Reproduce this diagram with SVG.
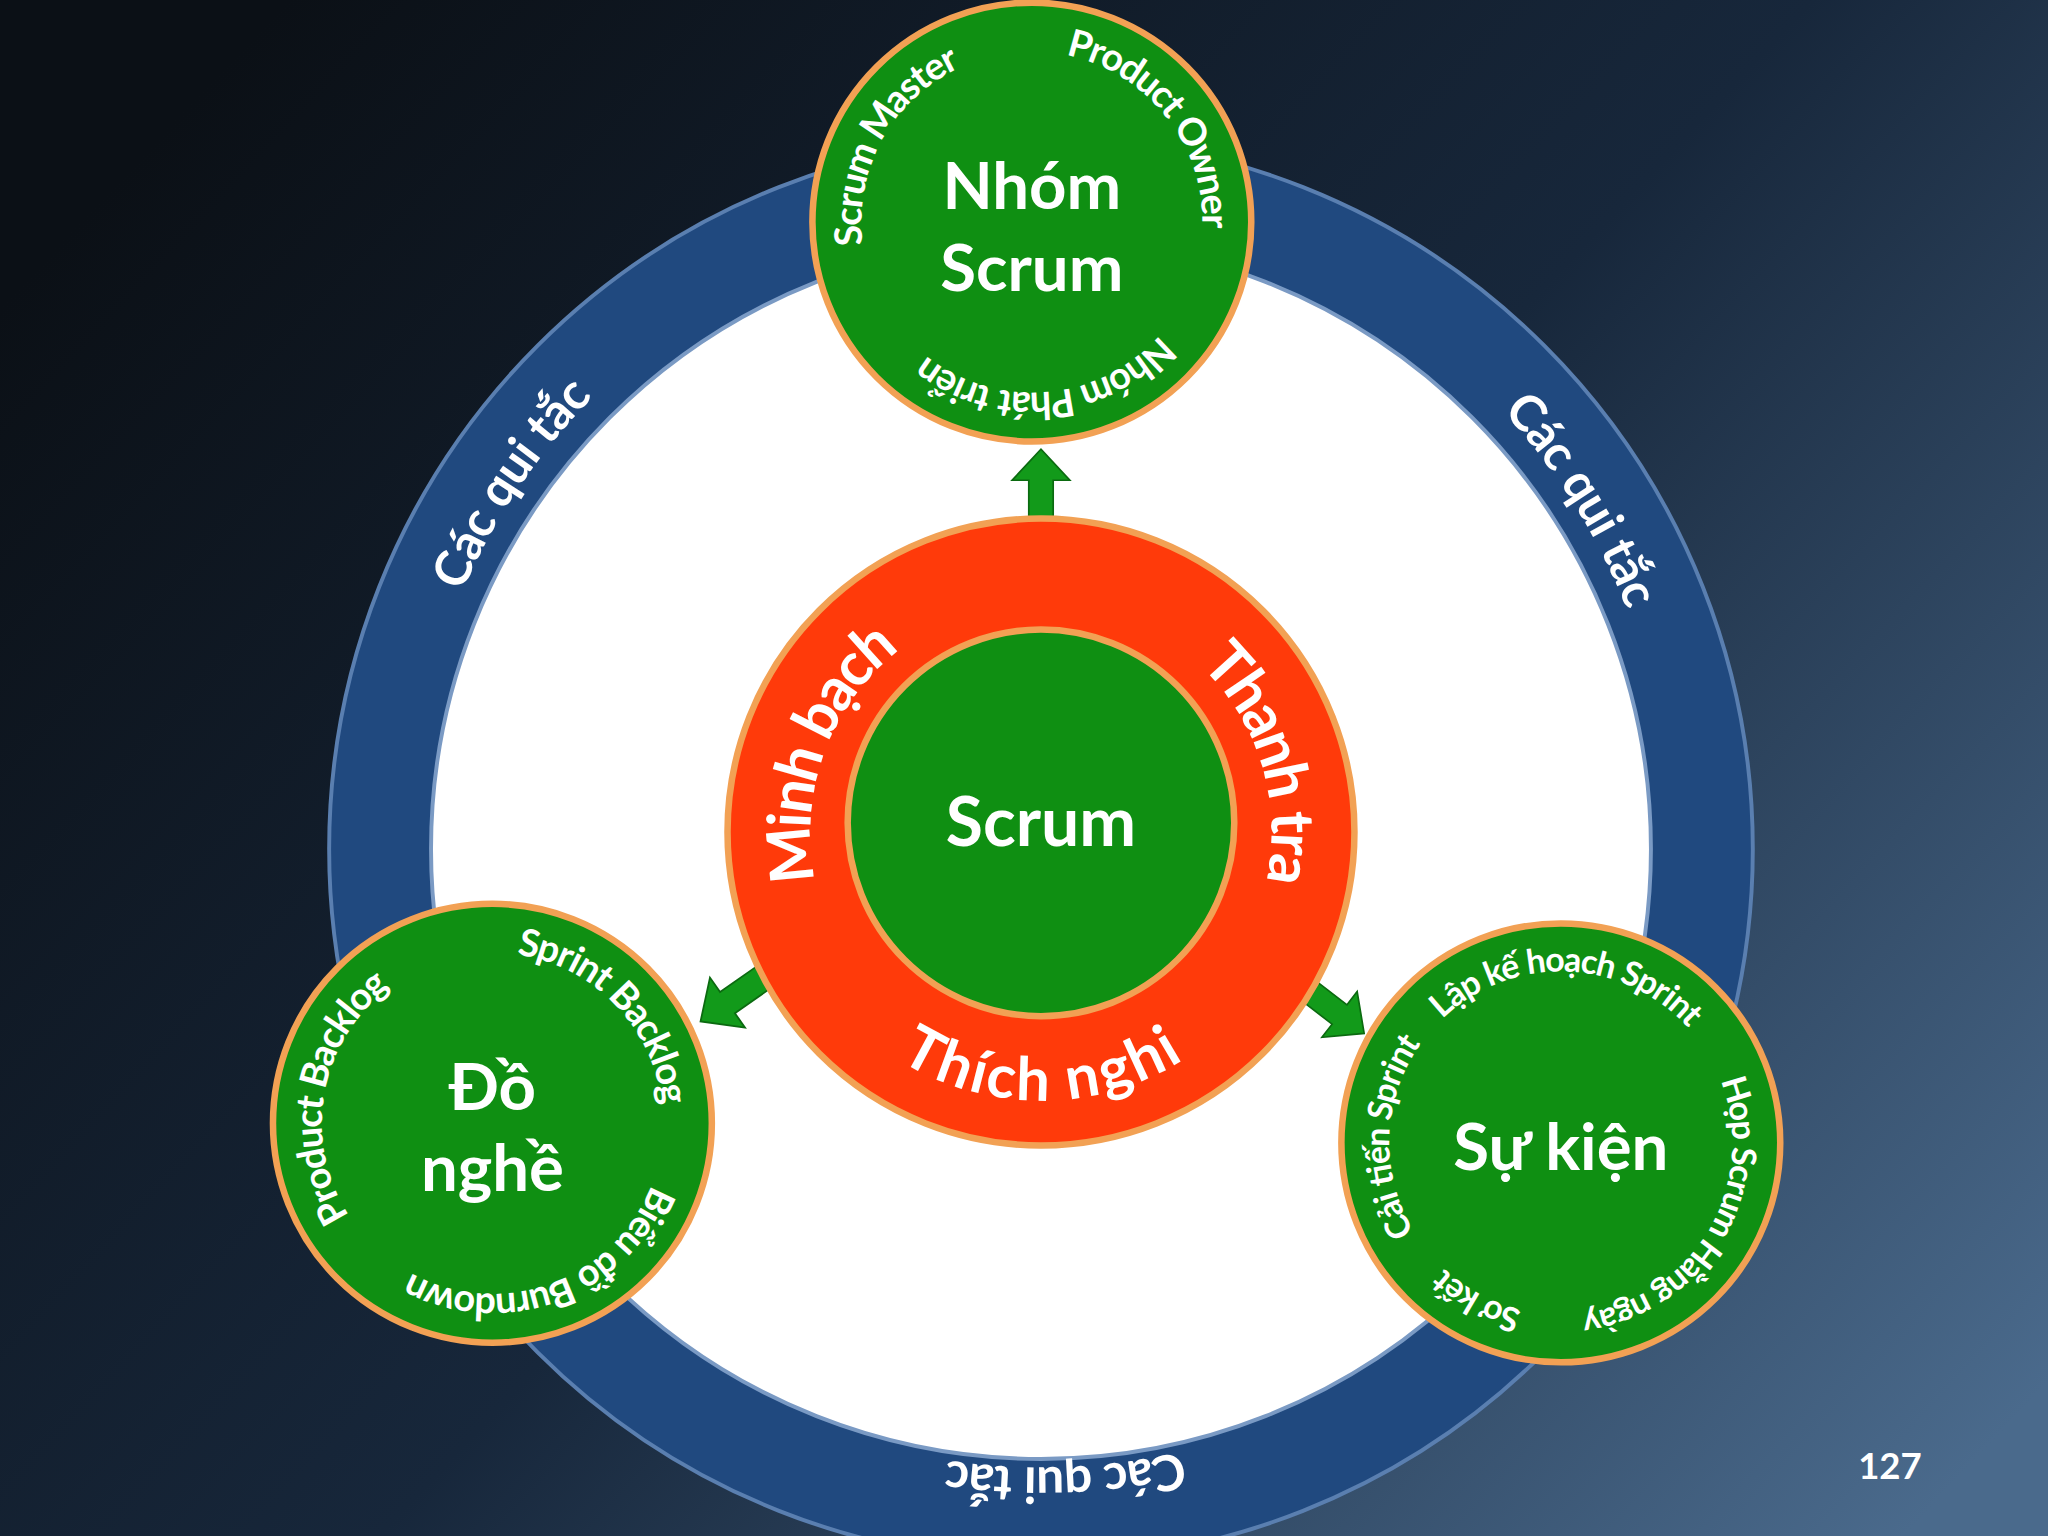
<svg xmlns="http://www.w3.org/2000/svg" width="2048" height="1536" viewBox="0 0 2048 1536">
<defs>
<linearGradient id="bg" x1="0" y1="0.2" x2="1" y2="0.9">
<stop offset="0" stop-color="#0b1016"/><stop offset="0.5" stop-color="#17273b"/><stop offset="1" stop-color="#4a6a8c"/>
</linearGradient>
<path id="ringB" d="M797,1138 A496,496 0 1 1 797,146 A496,496 0 1 1 797,1138"/>
<path id="ringT" d="M797,146 A496,496 0 1 1 797,1138 A496,496 0 1 1 797,146"/>
<path id="redB" d="M797,831 A194,194 0 1 1 797,443 A194,194 0 1 1 797,831"/>
<path id="redCCW" d="M797,449 A188,188 0 1 0 797,825 A188,188 0 1 0 797,449"/>
<path id="topB" d="M790,312 A142,142 0 1 1 790,28 A142,142 0 1 1 790,312"/>
<path id="topT" d="M790,28 A142,142 0 1 1 790,312 A142,142 0 1 1 790,28"/>
<path id="leftB" d="M377,1002 A142,142 0 1 1 377,718 A142,142 0 1 1 377,1002"/>
<path id="leftT" d="M377,718 A142,142 0 1 1 377,1002 A142,142 0 1 1 377,718"/>
<path id="rightB" d="M1195,1017 A142,142 0 1 1 1195,733 A142,142 0 1 1 1195,1017"/>
<path id="rightT" d="M1195,733 A142,142 0 1 1 1195,1017 A142,142 0 1 1 1195,733"/>
<polygon id="arrow" points="0,-11 38,-11 38,-26 66,0 38,26 38,11 0,11"/>
</defs>
<style>
.t{font-family:Lato,"Open Sans","DejaVu Sans",sans-serif;font-weight:bold;fill:#fff}
.g{fill:#0f8f12;stroke:#f2a154;stroke-width:5}
.s{font-size:29px}
</style>
<rect width="2048" height="1536" fill="url(#bg)"/>
<g transform="scale(1.30612)">
<g id="rules">
<circle cx="797" cy="650" r="545" fill="#20497f" stroke="#5a7fb0" stroke-width="3"/>
<circle cx="797" cy="650" r="467" fill="#fff" stroke="#7a9ac4" stroke-width="3"/>
<text class="t" font-size="38" dominant-baseline="central" text-anchor="middle"><textPath href="#ringB" startOffset="34.4%">Các qui tắc</textPath></text>
<text class="t" font-size="38" dominant-baseline="central" text-anchor="middle"><textPath href="#ringB" startOffset="66.1%">Các qui tắc</textPath></text>
<text class="t" font-size="38" dominant-baseline="central" text-anchor="middle"><textPath href="#ringT" startOffset="49.4%">Các qui tắc</textPath></text>
</g>
<g id="connectors" fill="#129a1a" stroke="#0b6a10" stroke-width="1.5">
<use href="#arrow" transform="translate(797,400) rotate(-90) scale(0.85)"/>
<use href="#arrow" transform="translate(585,748) rotate(145) scale(0.9)"/>
<use href="#arrow" transform="translate(1000,757) rotate(37.6) scale(0.85)"/>
</g>
<g id="scrum">
<circle cx="797" cy="637" r="240" fill="#ff3a0a" stroke="#f2a154" stroke-width="5"/>
<circle cx="797" cy="630" r="148" class="g"/>
<text class="t" font-size="52" x="797" y="648" text-anchor="middle">Scrum</text>
<text class="t" font-size="46" dominant-baseline="central" text-anchor="middle"><textPath href="#redB" startOffset="30.6%">Minh bạch</textPath></text>
<text class="t" font-size="46" dominant-baseline="central" text-anchor="middle"><textPath href="#redB" startOffset="70.3%">Thanh tra</textPath></text>
<text class="t" font-size="46" dominant-baseline="central" text-anchor="middle"><textPath href="#redCCW" startOffset="50%">Thích nghi</textPath></text>
</g>
<g id="team">
<circle cx="790" cy="170" r="168" class="g"/>
<text class="t" font-size="50" x="790" y="160" text-anchor="middle">Nhóm</text>
<text class="t" font-size="50" x="790" y="223" text-anchor="middle">Scrum</text>
<text class="t s" dominant-baseline="central" text-anchor="middle"><textPath href="#topB" startOffset="33%">Scrum Master</textPath></text>
<text class="t s" dominant-baseline="central" text-anchor="middle"><textPath href="#topB" startOffset="64.4%">Product Owner</textPath></text>
<text class="t s" dominant-baseline="central" text-anchor="middle"><textPath href="#topT" startOffset="48.6%">Nhóm Phát triển</textPath></text>
</g>
<g id="tools">
<circle cx="377" cy="860" r="168" class="g"/>
<text class="t" font-size="50" x="377" y="850" text-anchor="middle">Đồ</text>
<text class="t" font-size="50" x="377" y="912" text-anchor="middle">nghề</text>
<text class="t s" dominant-baseline="central" text-anchor="middle"><textPath href="#leftB" startOffset="27.8%">Product Backlog</textPath></text>
<text class="t s" dominant-baseline="central" text-anchor="middle"><textPath href="#leftB" startOffset="62.8%">Sprint Backlog</textPath></text>
<text class="t s" dominant-baseline="central" text-anchor="middle"><textPath href="#leftT" startOffset="44.4%">Biểu đồ Burndown</textPath></text>
</g>
<g id="events">
<circle cx="1195" cy="875" r="168" class="g"/>
<text class="t" font-size="50" x="1195" y="896" text-anchor="middle">Sự kiện</text>
<text class="t" font-size="26" dominant-baseline="central" text-anchor="middle"><textPath href="#rightB" startOffset="50.6%">Lập kế hoạch Sprint</textPath></text>
<text class="t" font-size="26" dominant-baseline="central" text-anchor="middle"><textPath href="#rightT" startOffset="33.6%">Họp Scrum Hằng ngày</textPath></text>
<text class="t" font-size="26" dominant-baseline="central" text-anchor="middle"><textPath href="#rightT" startOffset="57.8%">Sơ kết</textPath></text>
<text class="t" font-size="26" dominant-baseline="central" text-anchor="middle"><textPath href="#rightB" startOffset="25.6%">Cải tiến Sprint</textPath></text>
</g>
<text class="t" font-size="28" x="1447" y="1132" text-anchor="middle">127</text>
</g>
</svg>
